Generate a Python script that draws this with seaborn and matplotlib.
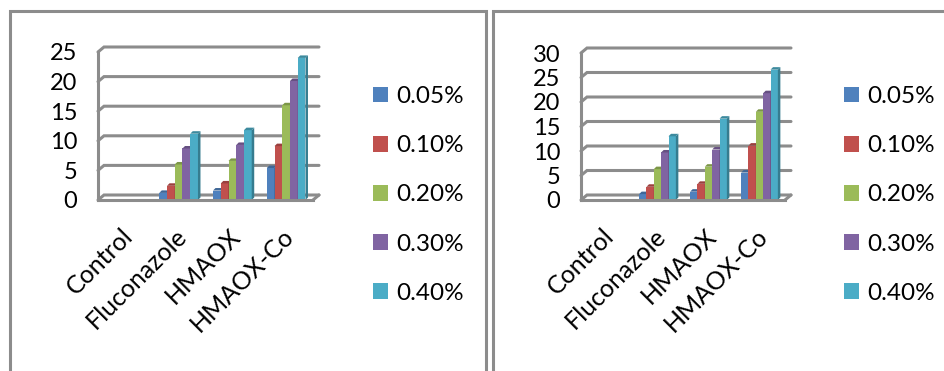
import matplotlib
matplotlib.use("Agg")
import matplotlib.pyplot as plt
import matplotlib.colors as mcolors
from matplotlib.lines import Line2D
from matplotlib.patches import Polygon, Rectangle
from matplotlib.transforms import ScaledTranslation
import pandas as pd
import seaborn as sns

# ---- data -------------------------------------------------------------
categories = ["Control", "Fluconazole", "HMAOX", "HMAOX-Co"]
concentrations = ["0.05%", "0.10%", "0.20%", "0.30%", "0.40%"]

# left chart
left_005 = [0, 1.2, 1.6, 5.4]
left_010 = [0, 2.4, 2.8, 9.1]
left_020 = [0, 6.0, 6.6, 16.0]
left_030 = [0, 8.7, 9.3, 20.1]
left_040 = [0, 11.2, 11.8, 24.0]

# right chart
right_005 = [0, 1.2, 1.7, 5.6]
right_010 = [0, 2.7, 3.3, 11.1]
right_020 = [0, 6.3, 6.8, 18.0]
right_030 = [0, 9.7, 10.3, 21.8]
right_040 = [0, 13.0, 16.6, 26.6]

palette = ["#4F81BD", "#C0504D", "#9BBB59", "#8064A2", "#4BACC6"]

# ---- style ------------------------------------------------------------
sns.set_theme(style="white")
plt.rcParams["font.family"] = ["Lato", "DejaVu Sans"]

W, H, DPI = 945, 371, 100
fig = plt.figure(figsize=(W / DPI, H / DPI), dpi=DPI)
GREY = "#8c8c8c"
TEXT = "#000000"


def box(x0, y0, x1, y1):
    """Figure-fraction rectangle from pixel corners (top-left origin)."""
    return [x0 / W, 1 - y1 / H, (x1 - x0) / W, (y1 - y0) / H]


def tint(color, f):
    r, g, b = mcolors.to_rgb(color)
    return (r * f, g * f, b * f)


def long_table(series):
    rows = []
    for conc, vals in zip(concentrations, series):
        for cat, v in zip(categories, vals):
            rows.append({"group": cat, "conc": conc, "value": v})
    return pd.DataFrame(rows)


def panel(rect, series, ymax, step, legend_xy):
    ax = fig.add_axes(box(*rect))
    df = long_table(series)
    sns.barplot(data=df, x="group", y="value", hue="conc", order=categories,
                hue_order=concentrations, palette=palette, width=0.72,
                saturation=1, linewidth=0, edgecolor="none", legend=False,
                errorbar=None, ax=ax)
    ax.set_xlim(-0.5, 3.5)
    ax.set_ylim(0, ymax)
    ax.set_xlabel("")
    ax.set_ylabel("")

    wpx = rect[2] - rect[0]
    hpx = rect[3] - rect[1]
    ux = 4.0 / wpx
    uy = ymax / hpx
    dx, dy = 6 * ux, 5 * uy        # depth of the back wall
    bx, by = 2.5 * ux, 2.5 * uy    # depth of each column

    # back wall gridlines with the short receding stubs at the left
    for v in range(0, ymax + 1, step):
        ax.add_line(Line2D([-0.5, -0.5 + dx, 3.5 + dx], [v, v + dy, v + dy],
                           color=GREY, lw=2.2, zorder=0.5, clip_on=False,
                           solid_joinstyle="miter"))
    # floor edge on the right
    ax.add_line(Line2D([3.5, 3.5 + dx], [0, dy], color=GREY, lw=2.2,
                       zorder=0.5, clip_on=False))

    # 3-D faces on every column
    n = len(concentrations)
    bars = [p for p in ax.patches if isinstance(p, Rectangle)]
    for i, p in enumerate(bars):
        hue_i = i // len(categories)
        z = 1 + hue_i * 0.01
        p.set_zorder(z)
        h = p.get_height()
        if h <= 0:
            continue
        x0, w = p.get_x(), p.get_width()
        c = palette[hue_i % n]
        side = Polygon([(x0 + w, 0), (x0 + w, h), (x0 + w + bx, h + by),
                        (x0 + w + bx, by)], closed=True, fc=tint(c, 0.72),
                       ec="none", zorder=z, clip_on=False)
        top = Polygon([(x0, h), (x0 + w, h), (x0 + w + bx, h + by),
                       (x0 + bx, h + by)], closed=True, fc=tint(c, 0.8),
                      ec="none", zorder=z, clip_on=False)
        ax.add_patch(side)
        ax.add_patch(top)

    # axes lines and ticks
    for s in ("top", "right"):
        ax.spines[s].set_visible(False)
    for s in ("left", "bottom"):
        ax.spines[s].set_color(GREY)
        ax.spines[s].set_linewidth(2.2)
        ax.spines[s].set_zorder(3)
    ax.set_yticks(range(0, ymax + 1, step))
    ax.tick_params(axis="y", direction="out", length=5, width=1.6,
                   color=GREY, labelsize=17, labelcolor=TEXT, pad=10)
    ax.set_xticks(range(len(categories)))
    ax.set_xticks([i - 0.5 for i in range(len(categories) + 1)], minor=True)
    ax.tick_params(axis="x", which="major", length=0, labelsize=18,
                   labelcolor=TEXT, pad=23)
    ax.tick_params(axis="x", which="minor", direction="out", length=6,
                   width=1.6, color=GREY)
    shift = ScaledTranslation(4 / DPI, 0, fig.dpi_scale_trans)
    for lab in ax.get_xticklabels():
        lab.set_rotation(45)
        lab.set_ha("right")
        lab.set_va("center")
        lab.set_rotation_mode("anchor")
        lab.set_transform(lab.get_transform() + shift)
    ax.grid(False)
    ax.set_facecolor("none")

    handles = [Rectangle((0, 0), 1, 1, fc=c, ec="none") for c in palette]
    ax.legend(handles, concentrations, loc="upper left",
              bbox_to_anchor=(legend_xy[0] / W, 1 - legend_xy[1] / H),
              bbox_transform=fig.transFigure, frameon=False, fontsize=17.5,
              handlelength=0.62, handleheight=0.62, handletextpad=0.35,
              labelspacing=1.16, borderpad=0, borderaxespad=0,
              labelcolor=TEXT)
    return ax


panel((98, 52, 313, 200),
      [left_005, left_010, left_020, left_030, left_040], 25, 5, (373, 86))
panel((581, 53, 785, 200),
      [right_005, right_010, right_020, right_030, right_040], 30, 5, (844, 86))

# frames around the two charts
fig.add_artist(Line2D(
    [10 / W, 10 / W, 486 / W, 486 / W], [0, 1 - 11 / H, 1 - 11 / H, 0],
    transform=fig.transFigure, color=GREY, lw=2.2, solid_joinstyle="miter"))
fig.add_artist(Line2D(
    [493 / W, 493 / W, 1], [0, 1 - 11 / H, 1 - 11 / H],
    transform=fig.transFigure, color=GREY, lw=2.2, solid_joinstyle="miter"))

fig.savefig("out.png", dpi=DPI, facecolor="white")
